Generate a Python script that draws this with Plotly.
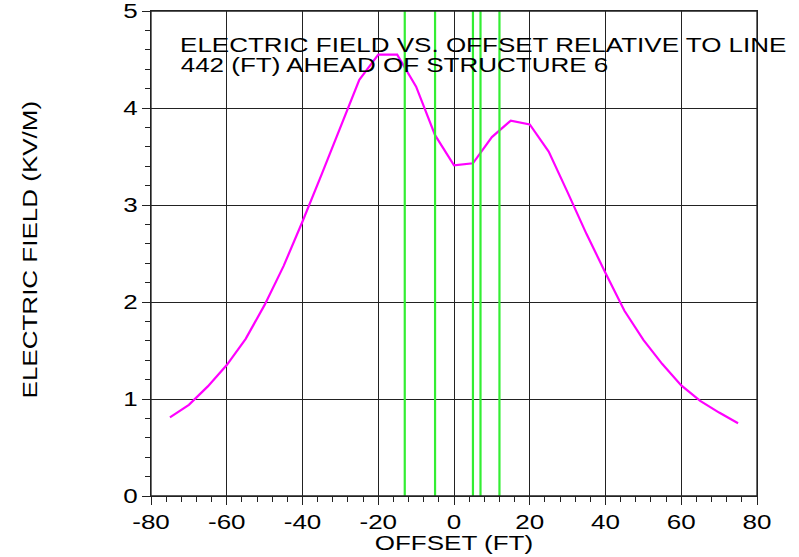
import plotly.graph_objects as go

offset_ft = [-75, -70, -65, -60, -55, -50, -45, -40, -35, -30, -25, -20, -15, -10, -5,
             0, 5, 10, 15, 20, 25, 30, 35, 40, 45, 50, 55, 60, 65, 70, 75]
field_kvm = [0.81, 0.94, 1.13, 1.35, 1.62, 1.97, 2.37, 2.83, 3.31, 3.79, 4.29, 4.55, 4.55, 4.22, 3.72,
             3.41, 3.43, 3.70, 3.87, 3.83, 3.55, 3.13, 2.70, 2.30, 1.91, 1.61, 1.36, 1.14, 0.98, 0.86, 0.75]
conductor_x = [-13, -5, 5, 7, 12]

x_ticks = [-80, -60, -40, -20, 0, 20, 40, 60, 80]
y_ticks = [0, 1, 2, 3, 4, 5]

title_lines = ["ELECTRIC FIELD VS. OFFSET RELATIVE TO LINE", "442 (FT) AHEAD OF STRUCTURE 6"]
title_centers_x = [7.7, -15.8]
title_centers_y = [4.65, 4.44]

FONT = "Liberation Sans, Arial, sans-serif"
FS = 20
INK = "#000"
FRAME = "#222"

fig = go.Figure()
for cx in conductor_x:
    fig.add_vline(x=cx, line=dict(color="#33ee33", width=2.2), layer="above")

fig.add_trace(go.Scatter(x=offset_ft, y=field_kvm, mode="lines",
                         line=dict(color="#ff00ff", width=2.2), showlegend=False))

# plot frame
fig.add_shape(type="rect", xref="paper", yref="paper", x0=0, x1=1, y0=0, y1=1,
              line=dict(color=FRAME, width=1.3), layer="above")

for txt, cx, cy in zip(title_lines, title_centers_x, title_centers_y):
    fig.add_annotation(text=txt, xref="x", yref="y", x=cx, y=cy,
                       xanchor="center", yanchor="middle", showarrow=False,
                       font=dict(family=FONT, size=FS, color=INK))

fig.add_annotation(text="ELECTRIC FIELD (KV/M)", xref="paper", yref="paper", x=0, y=0.507,
                   xanchor="center", yanchor="middle", xshift=-121, textangle=-90,
                   showarrow=False, font=dict(family=FONT, size=FS, color=INK))
fig.add_annotation(text="OFFSET (FT)", xref="paper", yref="paper", x=0.5, y=0,
                   xanchor="center", yanchor="middle", yshift=-47,
                   showarrow=False, font=dict(family=FONT, size=FS, color=INK))

axis_common = dict(
    showline=True, linecolor=FRAME, linewidth=1.3, mirror=True,
    showgrid=True, gridcolor=FRAME, gridwidth=1,
    zeroline=False, ticks="outside", ticklen=8, tickwidth=1, tickcolor=FRAME,
    tickfont=dict(family=FONT, size=FS, color=INK), automargin=False,
    ticklabeloverflow="allow",
)

fig.update_xaxes(range=[-80, 80], tickvals=x_ticks, ticktext=[str(v) for v in x_ticks],
                 minor=dict(dtick=4, tick0=-80, ticks="outside", ticklen=5, tickcolor=FRAME, showgrid=False),
                 **axis_common)
fig.update_yaxes(range=[0, 5], tickvals=y_ticks, ticktext=[str(v) for v in y_ticks],
                 minor=dict(dtick=0.2, tick0=0, ticks="outside", ticklen=5, tickcolor=FRAME, showgrid=False),
                 **axis_common)

fig.update_layout(
    width=799, height=557,
    margin=dict(l=151, r=42, t=11, b=61),
    paper_bgcolor="white", plot_bgcolor="white",
    font=dict(family=FONT),
    showlegend=False,
)

# drop the page's default body margin, and widen each text run: the reference's
# lettering is horizontally stretched
stretch_js = """
document.documentElement.style.margin = '0';
document.documentElement.style.overflow = 'hidden';
document.body.style.margin = '0';
document.body.style.overflow = 'hidden';
var gd = document.getElementById('{plot_id}');
gd.querySelectorAll('text').forEach(function(t){
  if (!t.textContent.trim()) return;
  var L = t.getComputedTextLength();
  t.setAttribute('textLength', (L*1.3).toFixed(2));
  t.setAttribute('lengthAdjust', 'spacingAndGlyphs');
});
"""

fig.write_html("out.html", post_script=stretch_js, config={"displayModeBar": False})
